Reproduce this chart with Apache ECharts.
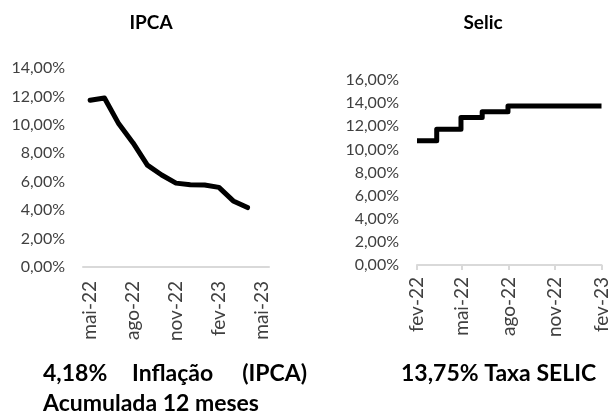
<!DOCTYPE html>
<html>
<head>
<meta charset="utf-8">
<title>IPCA e Selic</title>
<script src="https://cdn.jsdelivr.net/npm/echarts@6/dist/echarts.min.js"></script>
<style>
  html, body { margin: 0; padding: 0; background: #fff; }
  #main { width: 611px; height: 416px; }
</style>
</head>
<body>
<div id="main"></div>
<script type="text/javascript">
    // IPCA acumulado 12 meses (mai-22 .. mai-23)
    var ipcaMonths = ['mai-22','jun-22','jul-22','ago-22','set-22','out-22','nov-22','dez-22','jan-23','fev-23','mar-23','abr-23','mai-23'];
    var ipcaValues = [11.73, 11.89, 10.07, 8.73, 7.17, 6.47, 5.90, 5.79, 5.77, 5.60, 4.65, 4.18];

    // Selic: datas de mudança e taxa
    var selicDates = ['2022-02-01','2022-03-12','2022-04-29','2022-06-10','2022-07-31','2023-02-01'];
    var selicValues = [10.75, 11.75, 12.75, 13.25, 13.75, 13.75];
    var selicTicks = ['2022-02-01','2022-05-01','2022-08-01','2022-11-01','2023-02-01'];
    var monthNames = ['jan','fev','mar','abr','mai','jun','jul','ago','set','out','nov','dez'];

    function toTime(s) {
        var p = s.split('-');
        return new Date(+p[0], +p[1] - 1, +p[2]).getTime();
    }
    function pct(v) {
        return v.toFixed(2).replace('.', ',') + '%';
    }

    var FONT = 'Lato';
    var labelColor = '#404040';
    var tickTimes = selicTicks.map(toTime);

    var chart = echarts.init(document.getElementById('main'));
    var option = {
        animation: false,
        title: [
            { text: 'IPCA', left: 146, top: 8, textAlign: 'center',
              textStyle: { fontFamily: FONT, fontSize: 19, fontWeight: 'bold', color: '#000' } },
            { text: 'Selic', left: 478, top: 8, textAlign: 'center',
              textStyle: { fontFamily: FONT, fontSize: 19, fontWeight: 'bold', color: '#000' } }
        ],
        grid: [
            { left: 83, right: 342, top: 68, bottom: 149 },
            { left: 417, right: 9, top: 80, bottom: 151 }
        ],
        xAxis: [
            {
                gridIndex: 0,
                type: 'category',
                data: ipcaMonths,
                boundaryGap: true,
                axisLine: { lineStyle: { color: '#d9d9d9', width: 2 } },
                axisTick: { show: false },
                axisLabel: { interval: 2, rotate: 90, margin: 14, fontFamily: FONT, fontSize: 19, color: labelColor }
            },
            {
                gridIndex: 1,
                type: 'value',
                min: tickTimes[0],
                max: tickTimes[tickTimes.length - 1],
                splitLine: { show: false },
                axisLine: { lineStyle: { color: '#d9d9d9', width: 2 } },
                axisTick: { show: true, length: 5, lineStyle: { color: '#d9d9d9', width: 2 },
                            customValues: tickTimes },
                axisLabel: {
                    rotate: 90, margin: 12, fontFamily: FONT, fontSize: 19, color: labelColor,
                    customValues: tickTimes,
                    formatter: function (value) {
                        var d = new Date(value);
                        return monthNames[d.getMonth()] + '-' + String(d.getFullYear()).slice(2);
                    }
                }
            }
        ],
        yAxis: [
            {
                gridIndex: 0, type: 'value', min: 0, max: 14, interval: 2,
                splitLine: { show: false }, axisLine: { show: false }, axisTick: { show: false },
                axisLabel: { margin: 18, fontFamily: FONT, fontSize: 16, color: labelColor, formatter: pct }
            },
            {
                gridIndex: 1, type: 'value', min: 0, max: 16, interval: 2,
                splitLine: { show: false }, axisLine: { show: false }, axisTick: { show: false },
                axisLabel: { margin: 18, fontFamily: FONT, fontSize: 16, color: labelColor, formatter: pct }
            }
        ],
        series: [
            {
                name: 'IPCA', type: 'line', xAxisIndex: 0, yAxisIndex: 0,
                data: ipcaValues, showSymbol: false, smooth: false,
                lineStyle: { color: '#000', width: 5, cap: 'round', join: 'round' }
            },
            {
                name: 'Selic', type: 'line', xAxisIndex: 1, yAxisIndex: 1,
                data: selicDates.map(function (d, i) { return [toTime(d), selicValues[i]]; }),
                step: 'end', showSymbol: false,
                lineStyle: { color: '#000', width: 5, cap: 'butt', join: 'round' }
            }
        ],
        graphic: [
            { type: 'text', left: 43, top: 362,
              style: { text: '4,18%', font: 'bold 23px Lato', fill: '#000' } },
            { type: 'text', left: 132, top: 362,
              style: { text: 'Inflação', font: 'bold 23px Lato', fill: '#000' } },
            { type: 'text', right: 304, top: 362,
              style: { text: '(IPCA)', font: 'bold 23px Lato', fill: '#000' } },
            { type: 'text', left: 43, top: 392,
              style: { text: 'Acumulada 12 meses', font: 'bold 23px Lato', fill: '#000' } },
            { type: 'text', left: 401, top: 362,
              style: { text: '13,75% Taxa SELIC', font: 'bold 23px Lato', fill: '#000' } }
        ]
    };
    chart.setOption(option);
</script>
</body>
</html>
